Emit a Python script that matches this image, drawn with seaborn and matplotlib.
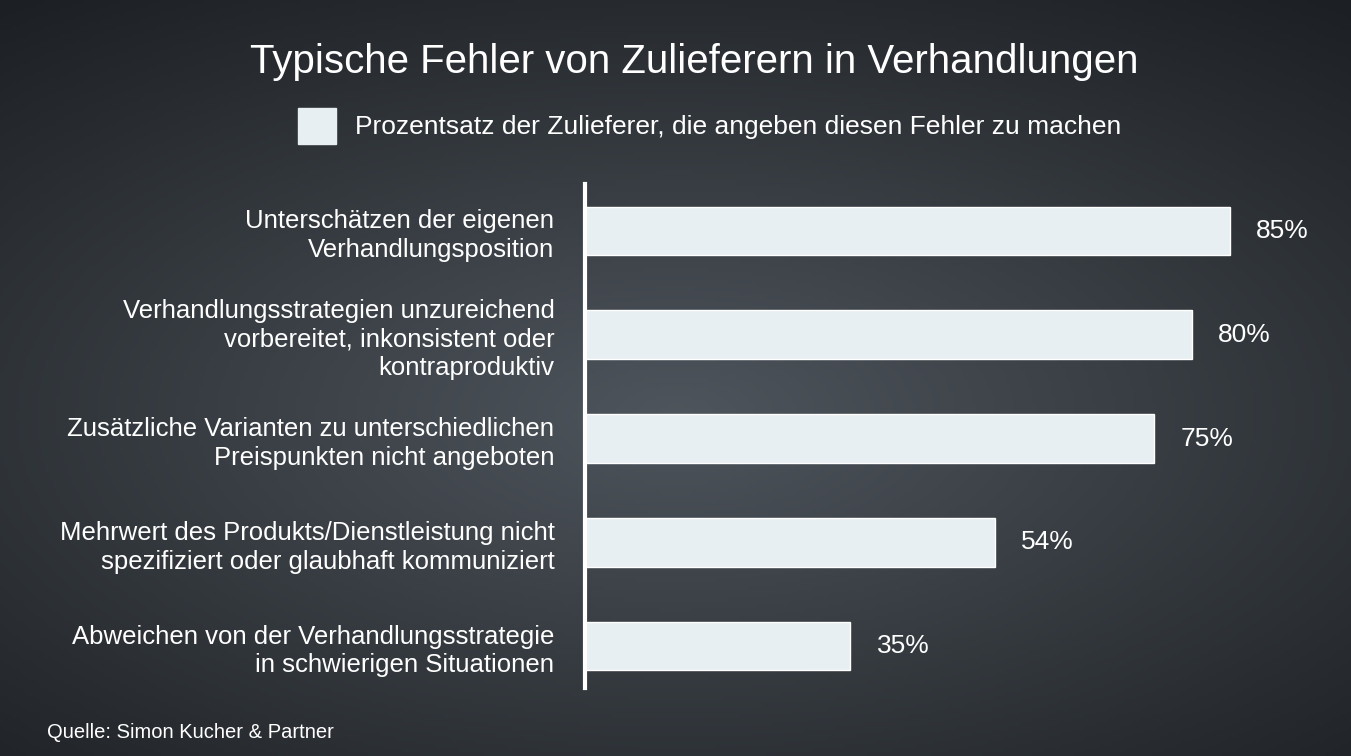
import matplotlib
matplotlib.use("Agg")
import matplotlib.pyplot as plt
import numpy as np
import pandas as pd
import seaborn as sns

categories = [
    "Unterschätzen der eigenen\nVerhandlungsposition",
    "Verhandlungsstrategien unzureichend\nvorbereitet, inkonsistent oder\nkontraproduktiv",
    "Zusätzliche Varianten zu unterschiedlichen\nPreispunkten nicht angeboten",
    "Mehrwert des Produkts/Dienstleistung nicht\nspezifiziert oder glaubhaft kommuniziert",
    "Abweichen von der Verhandlungsstrategie\nin schwierigen Situationen",
]
values = [85, 80, 75, 54, 35]
legend_label = "Prozentsatz der Zulieferer, die angeben diesen Fehler zu machen"
bar_color = "#e8eff2"

sns.set_style("white")
plt.rcParams["font.family"] = ["Liberation Sans", "DejaVu Sans"]

W, H = 1351, 756
fig = plt.figure(figsize=(W / 100, H / 100), dpi=100)

# chalkboard-like background gradient
bg = fig.add_axes([0, 0, 1, 1])
yy, xx = np.mgrid[0:1:200j, 0:1:360j]
r = np.sqrt(((xx - 0.5) / 0.8) ** 2 + ((yy - 0.55) / 0.7) ** 2)
shade = np.clip(1 - r, 0, 1)
c0 = np.array([0x1c, 0x1f, 0x23]) / 255
c1 = np.array([0x4e, 0x55, 0x5c]) / 255
img = c0 + (c1 - c0) * shade[..., None]
bg.imshow(img, aspect="auto", extent=[0, 1, 0, 1])
bg.set_axis_off()

ax = fig.add_axes([585 / W, 1 - 698 / H, (W - 585) / W, 519 / H])
df = pd.DataFrame({"cat": categories, "val": values})
sns.barplot(data=df, x="val", y="cat", color=bar_color, width=0.47,
            saturation=1, ax=ax)
ax.patch.set_alpha(0)
ax.set_xlim(0, 101)
ax.set_xlabel("")
ax.set_ylabel("")
ax.set_xticks([])
for s in ["top", "right", "bottom"]:
    ax.spines[s].set_visible(False)
ax.spines["left"].set_color("white")
ax.spines["left"].set_linewidth(3)
ax.spines["left"].set_bounds(-0.45, 4.4)
ax.tick_params(axis="y", length=0, pad=22, colors="white", labelsize=18.5)
for lab in ax.get_yticklabels():
    lab.set_horizontalalignment("right")
    lab.set_linespacing(1.25)
for i, v in enumerate(values):
    ax.text(v + 3.5, i, f"{v}%", color="white", fontsize=19,
            va="center", ha="left")

fig.text(0.514, 1 - 62 / H, "Typische Fehler von Zulieferern in Verhandlungen",
         color="white", fontsize=29, ha="center", va="center")
fig.patches.append(plt.Rectangle((298 / W, 1 - 144 / H), 38 / W, 36 / H,
                                 transform=fig.transFigure, color=bar_color))
fig.text(355 / W, 1 - 127 / H, legend_label, color="white", fontsize=19,
         va="center", ha="left")
fig.text(47 / W, 1 - 732 / H, "Quelle: Simon Kucher & Partner", color="white",
         fontsize=14.5, va="center", ha="left")

fig.savefig("out.png", dpi=100)
